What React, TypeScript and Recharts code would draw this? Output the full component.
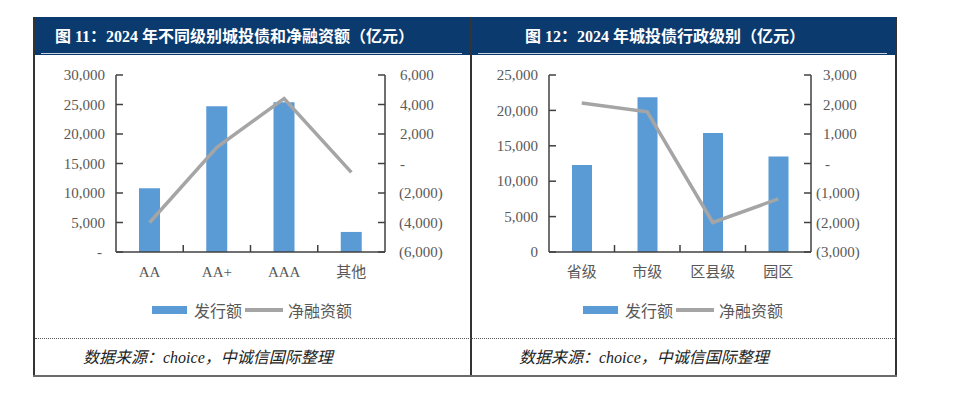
import React from 'react';
import { ComposedChart, Bar, Line, XAxis, YAxis } from 'recharts';

// 图11: by rating
const levelCats = ['AA', 'AA+', 'AAA', '其他'];
const levelIssue = [10800, 24700, 25400, 3400];
const levelNet = [-4000, 1100, 4400, -600];
const levelLeftTicks = [0, 5000, 10000, 15000, 20000, 25000, 30000];
const levelRightTicks = [-6000, -4000, -2000, 0, 2000, 4000, 6000];

// 图12: by administrative level
const adminCats = ['省级', '市级', '区县级', '园区'];
const adminIssue = [12300, 21850, 16800, 13500];
const adminNet = [2050, 1750, -2000, -1200];
const adminLeftTicks = [0, 5000, 10000, 15000, 20000, 25000];
const adminRightTicks = [-3000, -2000, -1000, 0, 1000, 2000, 3000];

const BAR = '#5B9BD5';
const LINE = '#A5A5A5';
const AXIS = '#404040';
const LABEL = '#595959';
const NAVY = '#0b3a6e';
const FONT = '"Liberation Serif", "Noto Sans CJK SC", serif';

const fmt = (v: number, zero: string) =>
  v === 0 ? zero : v < 0 ? `(${Math.abs(v).toLocaleString('en-US')})` : v.toLocaleString('en-US');

const LeftTick = (props: any) => {
  const { x, y, payload, zero } = props;
  const text = fmt(payload.value, zero);
  return (
    <g>
      <line x1={x} x2={x + 7} y1={y} y2={y} stroke={AXIS} strokeWidth={1.5} />
      <text x={text === '-' ? x - 14 : x - 11} y={y} dy="0.35em" textAnchor="end" fontSize={15} fill={LABEL} fontFamily={FONT}>
        {text}
      </text>
    </g>
  );
};

const RightTick = (props: any) => {
  const { x, y, payload, off } = props;
  const v = payload.value;
  const text = fmt(v, '-');
  const dx = v < 0 ? off[0] : v === 0 ? off[1] : off[2];
  return (
    <g>
      <line x1={x - 7} x2={x} y1={y} y2={y} stroke={AXIS} strokeWidth={1.5} />
      <text x={x + dx} y={y} dy="0.35em" textAnchor="start" fontSize={15} fill={LABEL} fontFamily={FONT}>
        {text}
      </text>
    </g>
  );
};

const CatTick = (props: any) => {
  const { x, y, payload, index, band } = props;
  return (
    <g>
      {index > 0 && <line x1={x - band / 2} x2={x - band / 2} y1={y} y2={y - 7} stroke={AXIS} strokeWidth={1.5} />}
      <text x={x} y={y + 20} dy="0.35em" textAnchor="middle" fontSize={15} fill={LABEL} fontFamily={FONT}>
        {payload.value}
      </text>
    </g>
  );
};

interface PanelChartProps {
  cats: string[];
  issue: number[];
  net: number[];
  leftTicks: number[];
  rightTicks: number[];
  leftZero: string;
  rightOff: number[];
  marginLeft: number;
  marginRight: number;
  barSize: number;
}

const PanelChart = (p: PanelChartProps) => {
  const data = p.cats.map((c, i) => ({ name: c, issue: p.issue[i], net: p.net[i] }));
  const band = (470 - p.marginLeft - p.marginRight - 120) / p.cats.length;
  const axisLine = { stroke: AXIS, strokeWidth: 1.5 };
  return (
    <ComposedChart width={470} height={300} data={data} margin={{ top: 75, left: p.marginLeft, right: p.marginRight, bottom: 18 }}>
      <XAxis
        dataKey="name"
        height={30}
        axisLine={axisLine}
        tickLine={false}
        tickSize={0}
        tickMargin={0}
        interval={0}
        tick={<CatTick band={band} />}
      />
      <YAxis
        yAxisId="left"
        width={60}
        domain={[p.leftTicks[0], p.leftTicks[p.leftTicks.length - 1]]}
        ticks={p.leftTicks}
        interval={0}
        axisLine={axisLine}
        tickLine={false}
        tickSize={0}
        tickMargin={0}
        tick={<LeftTick zero={p.leftZero} />}
      />
      <YAxis
        yAxisId="right"
        orientation="right"
        width={60}
        domain={[p.rightTicks[0], p.rightTicks[p.rightTicks.length - 1]]}
        ticks={p.rightTicks}
        interval={0}
        axisLine={axisLine}
        tickLine={false}
        tickSize={0}
        tickMargin={0}
        tick={<RightTick off={p.rightOff} />}
      />
      <Bar yAxisId="left" dataKey="issue" fill={BAR} barSize={p.barSize} isAnimationActive={false} />
      <Line yAxisId="right" type="linear" dataKey="net" stroke={LINE} strokeWidth={3.5} dot={false} isAnimationActive={false} />
    </ComposedChart>
  );
};

const LegendRow = ({ left }: { left: number }) => (
  <div style={{ position: 'absolute', left, top: 299, height: 22, display: 'flex', alignItems: 'center', fontSize: 16, color: LABEL, fontFamily: FONT }}>
    <span style={{ width: 35, height: 8, background: BAR, marginRight: 7 }} />
    <span style={{ marginRight: 3 }}>发行额</span>
    <span style={{ width: 38, height: 4, background: LINE, marginRight: 5 }} />
    <span>净融资额</span>
  </div>
);

const abs = (s: React.CSSProperties): React.CSSProperties => ({ position: 'absolute', ...s });

export default function App() {
  return (
    <div style={abs({ left: 0, top: 0, width: 960, height: 393, background: '#fff', fontFamily: FONT, overflow: 'hidden' })}>
      {/* headers */}
      <div style={abs({ left: 34, top: 17, width: 436, height: 38, background: NAVY })} />
      <div style={abs({ left: 472, top: 17, width: 424, height: 38, background: NAVY })} />
      <div style={abs({ left: 41, top: 53, width: 421, height: 1, background: '#c9d3e0' })} />
      <div style={abs({ left: 478, top: 53, width: 409, height: 1, background: '#c9d3e0' })} />
      <div style={abs({ left: 55, top: 24, height: 26, lineHeight: '26px', color: '#fff', fontWeight: 'bold', fontSize: 16, whiteSpace: 'nowrap' })}>
        图 11：2024 年不同级别城投债和净融资额（亿元）
      </div>
      <div style={abs({ left: 525, top: 24, height: 26, lineHeight: '26px', color: '#fff', fontWeight: 'bold', fontSize: 16, whiteSpace: 'nowrap' })}>
        图 12：2024 年城投债行政级别（亿元）
      </div>

      {/* borders */}
      <div style={abs({ left: 33, top: 17, width: 2, height: 360, background: '#333' })} />
      <div style={abs({ left: 470, top: 17, width: 2, height: 360, background: '#333' })} />
      <div style={abs({ left: 895, top: 17, width: 2, height: 360, background: '#333' })} />
      <div style={abs({ left: 33, top: 375, width: 864, height: 2, background: '#6b6b6b' })} />
      <div style={abs({ left: 35, top: 338, width: 860, height: 0, borderTop: '1px dotted #555' })} />

      {/* charts */}
      <div style={abs({ left: 0, top: 0 })}>
        <PanelChart
          cats={levelCats}
          issue={levelIssue}
          net={levelNet}
          leftTicks={levelLeftTicks}
          rightTicks={levelRightTicks}
          leftZero="-"
          rightOff={[14, 15, 15]}
          marginLeft={56}
          marginRight={25}
          barSize={21}
        />
      </div>
      <div style={abs({ left: 470, top: 0 })}>
        <PanelChart
          cats={adminCats}
          issue={adminIssue}
          net={adminNet}
          leftTicks={adminLeftTicks}
          rightTicks={adminRightTicks}
          leftZero="0"
          rightOff={[5, 14, 12]}
          marginLeft={19}
          marginRight={69}
          barSize={20}
        />
      </div>

      <LegendRow left={152} />
      <LegendRow left={583} />

      <div style={abs({ left: 83, top: 346, lineHeight: '24px', fontSize: 16, fontStyle: 'italic', color: '#222', whiteSpace: 'nowrap' })}>
        数据来源：choice，中诚信国际整理
      </div>
      <div style={abs({ left: 519, top: 346, lineHeight: '24px', fontSize: 16, fontStyle: 'italic', color: '#222', whiteSpace: 'nowrap' })}>
        数据来源：choice，中诚信国际整理
      </div>
    </div>
  );
}
